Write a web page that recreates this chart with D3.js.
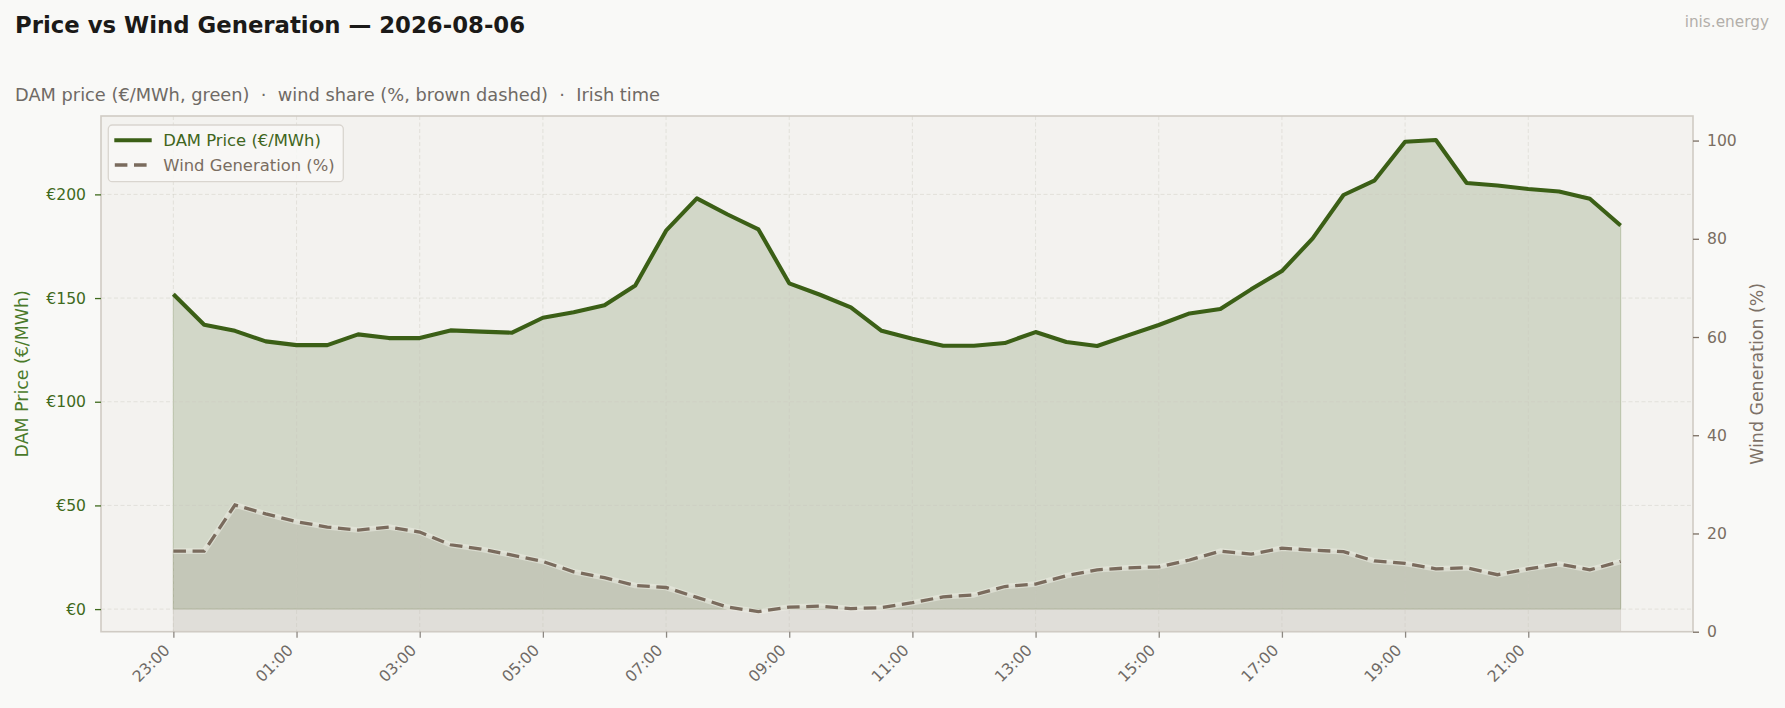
<!DOCTYPE html>
<html><head><meta charset="utf-8">
<script src="https://cdn.jsdelivr.net/npm/d3@7"></script>
<style>
html,body{margin:0;padding:0;background:#f9f9f7;}
svg{display:block;font-family:"DejaVu Sans",sans-serif;}
</style></head>
<body><svg id="chart" width="1785" height="708"></svg>
<script>
const times = ["23:00","23:30","00:00","00:30","01:00","01:30","02:00","02:30","03:00","03:30",
"04:00","04:30","05:00","05:30","06:00","06:30","07:00","07:30","08:00","08:30",
"09:00","09:30","10:00","10:30","11:00","11:30","12:00","12:30","13:00","13:30",
"14:00","14:30","15:00","15:30","16:00","16:30","17:00","17:30","18:00","18:30",
"19:00","19:30","20:00","20:30","21:00","21:30","22:00","22:30"];
const price = [151.8,137.1,134.2,129.1,127.3,127.3,132.5,130.7,130.7,134.4,
133.8,133.3,140.5,143.2,146.5,156.1,182.5,198.1,190.3,183.1,
157.1,151.6,145.5,134.2,130.4,127.0,127.0,128.3,133.6,128.8,
126.9,132.0,137.0,142.6,144.7,154.2,163.0,178.8,199.7,206.6,
225.4,226.2,205.5,204.3,202.6,201.4,197.9,185.0];
const wind = [16.4,16.4,25.8,24.0,22.4,21.3,20.7,21.3,20.3,17.7,
16.8,15.6,14.3,12.2,11.0,9.4,9.0,7.0,5.0,4.1,
5.0,5.2,4.7,4.9,5.9,7.1,7.5,9.2,9.7,11.4,
12.6,13.0,13.2,14.6,16.4,15.8,17.0,16.6,16.3,14.4,
13.9,12.8,13.0,11.6,12.8,13.8,12.6,14.3];
const xTickLabels = ["23:00","01:00","03:00","05:00","07:00","09:00","11:00","13:00","15:00","17:00","19:00","21:00"];
const priceTicks = [0,50,100,150,200];
const windTicks = [0,20,40,60,80,100];
const priceDomain = [-10.9, 237.8];
const windDomain = [0, 105];

const C = {price:"#3b5f16", wind:"#7a6b5d", grid:"#e1ded8", frame:"#d0cbc4"};
const svg = d3.select("#chart");
const L = 101, R = 1693, T = 116, B = 631.7;
const n = times.length, pad = 0.05*(n-1);
const x = d3.scaleLinear().domain([-pad, n-1+pad]).range([L, R]);
const yP = d3.scaleLinear().domain(priceDomain).range([B, T]);
const yW = d3.scaleLinear().domain(windDomain).range([B, T]);
const data = times.map((t,i)=>({t, i, p:price[i], w:wind[i]}));

// header
svg.append("text").attr("x",15).attr("y",33).attr("font-size",22.8).attr("font-weight","bold")
  .attr("fill","#1b1a18").text("Price vs Wind Generation \u2014 2026-08-06");
svg.append("text").attr("x",15).attr("y",100.5).attr("font-size",17.8).attr("fill","#6f6a65")
  .text("DAM price (\u20ac/MWh, green)  \u00b7  wind share (%, brown dashed)  \u00b7  Irish time")
  .attr("xml:space","preserve").style("white-space","pre");
svg.append("text").attr("x",1769).attr("y",27).attr("font-size",15.3).attr("text-anchor","end")
  .attr("fill","#b3afaa").text("inis.energy");

// plot bg
svg.append("rect").attr("x",L).attr("y",T).attr("width",R-L).attr("height",B-T).attr("fill","#f3f2ef");

// fills
const areaP = d3.area().x(d=>x(d.i)).y0(yP(0)).y1(d=>yP(d.p));
const areaW = d3.area().x(d=>x(d.i)).y0(yW(0)).y1(d=>yW(d.w));
svg.append("path").datum(data).attr("d",areaP).attr("fill",C.price).attr("fill-opacity",0.18)
  .attr("stroke",C.price).attr("stroke-opacity",0.2).attr("stroke-width",1.2);
svg.append("path").datum(data).attr("d",areaW).attr("fill",C.wind).attr("fill-opacity",0.15)
  .attr("stroke",C.wind).attr("stroke-opacity",0.12).attr("stroke-width",1);

// grid
const tickIdx = xTickLabels.map(l=>times.indexOf(l));
svg.append("g").selectAll("line").data(tickIdx).join("line")
  .attr("x1",d=>x(d)).attr("x2",d=>x(d)).attr("y1",T).attr("y2",B)
  .attr("stroke","#c9c5bd").attr("stroke-opacity",0.45).attr("stroke-width",0.9).attr("stroke-dasharray","4,2.5");
svg.append("g").selectAll("line").data(priceTicks).join("line")
  .attr("x1",L).attr("x2",R).attr("y1",d=>yP(d)).attr("y2",d=>yP(d))
  .attr("stroke","#c9c5bd").attr("stroke-opacity",0.45).attr("stroke-width",0.9).attr("stroke-dasharray","4,2.5");

// lines
const lineW = d3.line().x(d=>x(d.i)).y(d=>yW(d.w));
const lineP = d3.line().x(d=>x(d.i)).y(d=>yP(d.p));
svg.append("path").datum(data).attr("d",lineW).attr("fill","none").attr("stroke","#ecece4")
  .attr("stroke-opacity",0.55).attr("stroke-width",5.6).attr("stroke-linejoin","round");
svg.append("path").datum(data).attr("d",lineW).attr("fill","none").attr("stroke",C.wind)
  .attr("stroke-width",3.3).attr("stroke-dasharray","12.6,6.6");
svg.append("path").datum(data).attr("d",lineP).attr("fill","none").attr("stroke",C.price)
  .attr("stroke-width",4.1).attr("stroke-linejoin","round");

// frame
svg.append("rect").attr("x",L).attr("y",T).attr("width",R-L).attr("height",B-T)
  .attr("fill","none").attr("stroke",C.frame).attr("stroke-width",1.6);

// axes
const gl = svg.append("g").attr("transform",`translate(${L},0)`)
  .call(d3.axisLeft(yP).tickValues(priceTicks).tickFormat(d=>"\u20ac"+d).tickSize(6).tickPadding(9));
gl.select(".domain").remove();
gl.selectAll("line").attr("stroke","#3f6a1d").attr("stroke-width",1.3);
gl.selectAll("text").attr("fill","#3f6a1d").attr("font-size",15.6).attr("font-family","DejaVu Sans");

const gr = svg.append("g").attr("transform",`translate(${R},0)`)
  .call(d3.axisRight(yW).tickValues(windTicks).tickSize(6).tickPadding(8));
gr.select(".domain").remove();
gr.selectAll("line").attr("stroke","#7a6e62").attr("stroke-width",1.3);
gr.selectAll("text").attr("fill","#7a6e62").attr("font-size",15.6).attr("font-family","DejaVu Sans");

const gb = svg.append("g").attr("transform",`translate(0,${B})`)
  .call(d3.axisBottom(x).tickValues(tickIdx).tickFormat(d=>times[d]).tickSize(6));
gb.select(".domain").remove();
gb.selectAll("line").attr("stroke","#8d8882").attr("stroke-width",1.3);
gb.selectAll("text").attr("fill","#6f6a66").attr("font-size",15.6).attr("font-family","DejaVu Sans")
  .attr("text-anchor","end").attr("dy",null).attr("y",null)
  .attr("transform","translate(-3,19.5) rotate(-45)");

// axis labels
svg.append("text").attr("transform",`translate(28,${(T+B)/2}) rotate(-90)`).attr("text-anchor","middle")
  .attr("font-size",17.4).attr("fill","#4a7a2a").text("DAM Price (\u20ac/MWh)");
svg.append("text").attr("transform",`translate(1763,${(T+B)/2}) rotate(-90)`).attr("text-anchor","middle")
  .attr("font-size",17.4).attr("fill","#7d7167").text("Wind Generation (%)");

// legend
const lg = svg.append("g");
lg.append("rect").attr("x",108.3).attr("y",125).attr("width",235).attr("height",56.7).attr("rx",4)
  .attr("fill","#f8f8f6").attr("fill-opacity",0.85).attr("stroke","#d9d5cf").attr("stroke-width",1.3);
lg.append("line").attr("x1",114.3).attr("x2",151.7).attr("y1",140.3).attr("y2",140.3)
  .attr("stroke",C.price).attr("stroke-width",4.1);
lg.append("line").attr("x1",114.8).attr("x2",151.7).attr("y1",165).attr("y2",165)
  .attr("stroke",C.wind).attr("stroke-width",3.3).attr("stroke-dasharray","12.6,6.6");
lg.append("text").attr("x",163.3).attr("y",145.8).attr("font-size",16.4).attr("fill","#3f6520").text("DAM Price (\u20ac/MWh)");
lg.append("text").attr("x",163.3).attr("y",171.3).attr("font-size",16.4).attr("fill","#7a6d61").text("Wind Generation (%)");
</script></body></html>
